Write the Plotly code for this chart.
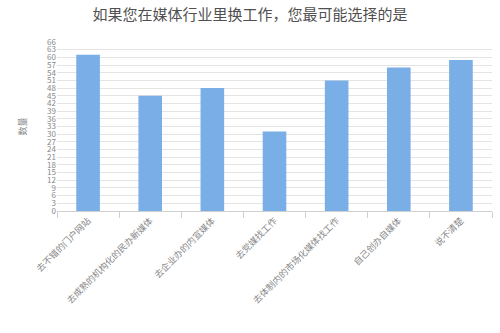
import plotly.graph_objects as go

categories = ["去不错的门户网站", "去成熟的机构化的民办新媒体", "去企业办的内宣媒体", "去党媒找工作",
              "去体制内的市场化媒体找工作", "自己创办自媒体", "说不清楚"]
values = [61, 45, 48, 31, 51, 56, 59]
y_ticks = list(range(0, 67, 3))

font = "Noto Sans CJK SC, sans-serif"
fig = go.Figure(go.Bar(x=categories, y=values, marker=dict(color="#7aaee6", line=dict(width=0))))
fig.update_layout(
    width=500, height=333,
    margin=dict(l=57, r=8, t=42, b=122),
    paper_bgcolor="white", plot_bgcolor="white",
    bargap=0.62,
    showlegend=False,
    title=dict(text="如果您在媒体行业里换工作，您最可能选择的是", x=0.5, xanchor="center",
               y=0.955, yanchor="middle", font=dict(family=font, size=15, color="#505050")),
)
fig.update_xaxes(tickangle=-45, tickfont=dict(family=font, size=9, color="#888"),
                 showline=True, linecolor="#d0d0d0", ticks="outside", tickson="boundaries",
                 ticklen=6, tickcolor="#d0d0d0", showgrid=False, automargin=False)
fig.update_yaxes(range=[0, 66], tickvals=y_ticks, tickfont=dict(family=font, size=8, color="#888"),
                 gridcolor="#e4e4e4", showline=False, zeroline=False, automargin=False,
                 title=dict(text="数量", font=dict(family=font, size=9, color="#888"), standoff=18))
fig.write_html("out.html")
